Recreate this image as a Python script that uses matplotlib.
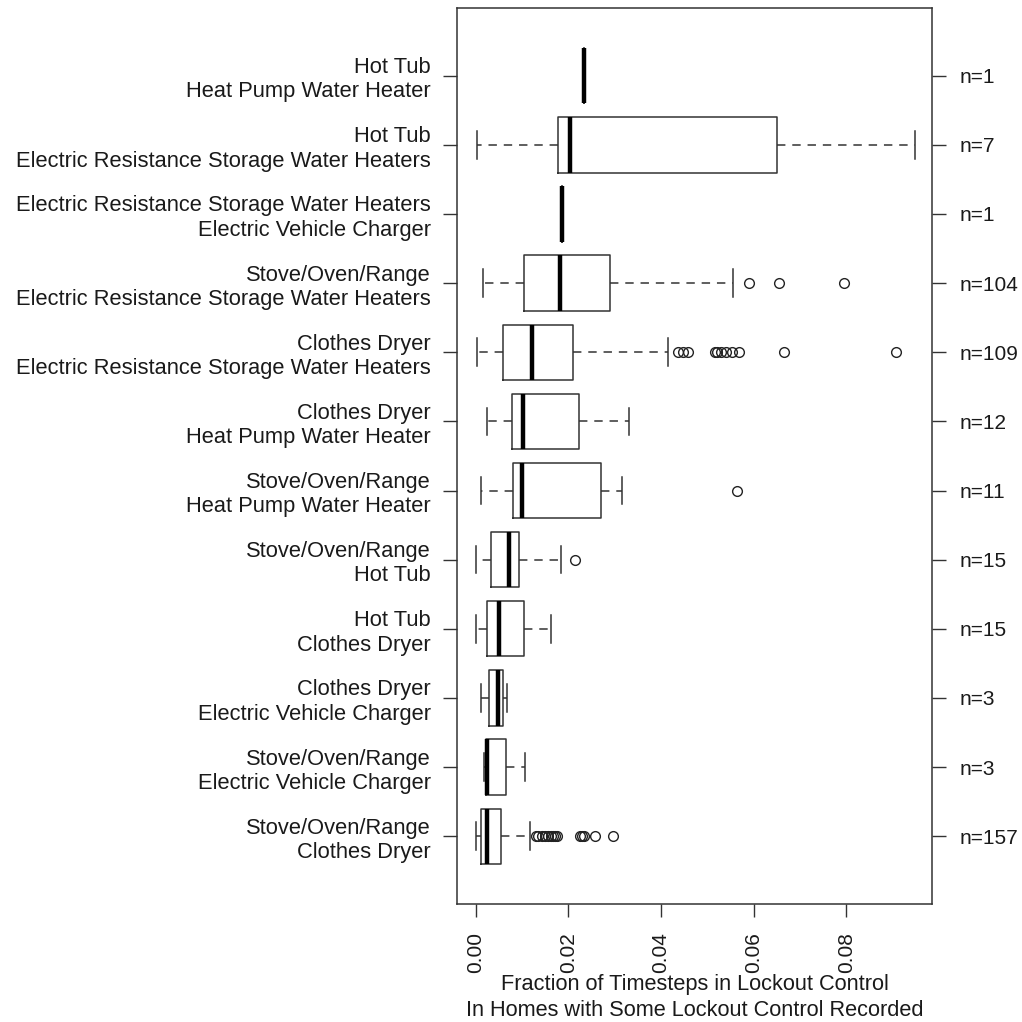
import matplotlib
matplotlib.use("Agg")
import matplotlib.pyplot as plt

plt.rcParams["font.family"] = ["Liberation Sans", "DejaVu Sans"]

# groups, listed top to bottom as in the figure
labels = [
    "Hot Tub\nHeat Pump Water Heater",
    "Hot Tub\nElectric Resistance Storage Water Heaters",
    "Electric Resistance Storage Water Heaters\nElectric Vehicle Charger",
    "Stove/Oven/Range\nElectric Resistance Storage Water Heaters",
    "Clothes Dryer\nElectric Resistance Storage Water Heaters",
    "Clothes Dryer\nHeat Pump Water Heater",
    "Stove/Oven/Range\nHeat Pump Water Heater",
    "Stove/Oven/Range\nHot Tub",
    "Hot Tub\nClothes Dryer",
    "Clothes Dryer\nElectric Vehicle Charger",
    "Stove/Oven/Range\nElectric Vehicle Charger",
    "Stove/Oven/Range\nClothes Dryer",
]
counts = [1, 7, 1, 104, 109, 12, 11, 15, 15, 3, 3, 157]

whislo = [0.0234, 0.0002, 0.0186, 0.0016, 0.0003, 0.0024, 0.0012, 0.0000, 0.0000, 0.0011, 0.0017, 0.0000]
q1 = [0.0234, 0.0178, 0.0186, 0.0104, 0.0059, 0.0078, 0.0081, 0.0032, 0.0025, 0.0029, 0.0021, 0.0011]
med = [0.0234, 0.0204, 0.0186, 0.0181, 0.0122, 0.0102, 0.0099, 0.0072, 0.0051, 0.0048, 0.0024, 0.0024]
q3 = [0.0234, 0.0651, 0.0186, 0.0290, 0.0210, 0.0222, 0.0271, 0.0093, 0.0104, 0.0058, 0.0065, 0.0055]
whishi = [0.0234, 0.0949, 0.0186, 0.0556, 0.0416, 0.0330, 0.0316, 0.0183, 0.0163, 0.0068, 0.0106, 0.0117]
fliers = [
    [],
    [],
    [],
    [0.0591, 0.0655, 0.0795],
    [0.0437, 0.0448, 0.0459, 0.0516, 0.0522, 0.0530, 0.0541, 0.0554, 0.0569, 0.0666, 0.0907],
    [],
    [0.0564],
    [0.0215],
    [],
    [],
    [],
    [0.0129, 0.0135, 0.0142, 0.0150, 0.0156, 0.0162, 0.0167, 0.0172, 0.0176,
     0.0225, 0.0230, 0.0234, 0.0258, 0.0297],
]
xticks = [0.00, 0.02, 0.04, 0.06, 0.08]

stats = []
for i in range(len(labels)):
    stats.append({"whislo": whislo[i], "q1": q1[i], "med": med[i], "q3": q3[i],
                  "whishi": whishi[i], "fliers": fliers[i]})

positions = list(range(len(labels), 0, -1))

fig = plt.figure(figsize=(10.22, 10.22), dpi=100)
ax = fig.add_axes([0.4475, 0.1155, 0.4647, 0.8767])

edge = "#333333"
txt = "#1a1a1a"
ax.bxp(
    stats,
    positions=positions,
    widths=0.8,
    capwidths=0.4,
    orientation="horizontal",
    boxprops=dict(color=edge, linewidth=1.1),
    medianprops=dict(color="black", linewidth=3.2, solid_capstyle="butt"),
    whiskerprops=dict(color=edge, linewidth=1.1, linestyle=(0, (5.5, 4.5))),
    capprops=dict(color=edge, linewidth=1.1),
    flierprops=dict(marker="o", markersize=7, markerfacecolor="none",
                    markeredgecolor="#222222", markeredgewidth=1.0),
)

ax.set_xlim(-0.004, 0.0986)
ax.set_ylim(0.02, 12.98)
for s in ax.spines.values():
    s.set_color(edge)
    s.set_linewidth(1.1)

ax.set_xticks(xticks)
ax.set_xticklabels(["%.2f" % v for v in xticks], rotation=90, fontsize=15, color=txt)
ax.tick_params(axis="x", length=9.5, width=1, color=edge, pad=11)

ax.set_yticks(positions)
ax.set_yticklabels(labels, fontsize=15.75, color=txt)
ax.tick_params(axis="y", length=10, width=1, color=edge, pad=9)

ax2 = ax.twinx()
ax2.set_ylim(ax.get_ylim())
ax2.set_yticks(positions)
ax2.set_yticklabels(["n=%d" % n for n in counts], fontsize=15, color=txt)
ax2.tick_params(axis="y", length=10, width=1, color=edge, pad=10)
for s in ax2.spines.values():
    s.set_visible(False)

ax.set_xlabel("Fraction of Timesteps in Lockout Control\nIn Homes with Some Lockout Control Recorded",
              fontsize=15.7, color=txt, linespacing=1.3)
ax.xaxis.label.set_va("center")
ax.xaxis.set_label_coords(0.5, -0.1044)

fig.savefig("out.png", dpi=100, facecolor="white")
